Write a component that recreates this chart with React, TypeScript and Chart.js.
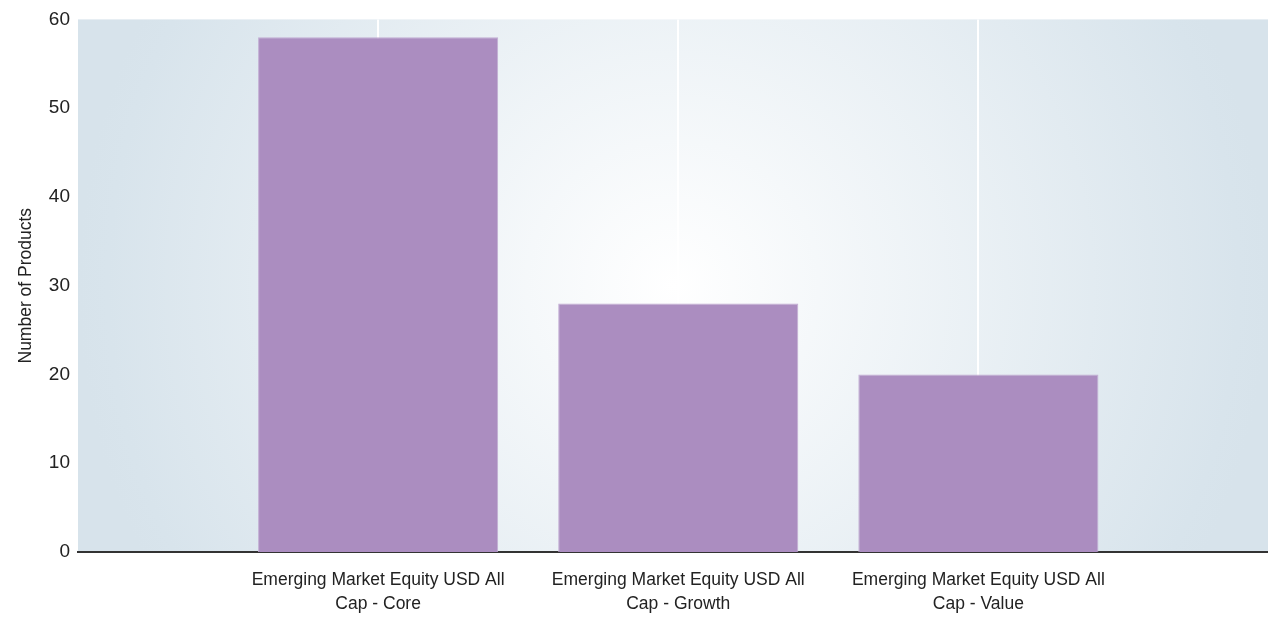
import React, { useEffect, useRef } from "react";
import { Chart, registerables } from "chart.js";

Chart.register(...registerables);

const categories: string[][] = [
  ["Emerging Market Equity USD All", "Cap - Core"],
  ["Emerging Market Equity USD All", "Cap - Growth"],
  ["Emerging Market Equity USD All", "Cap - Value"],
];
const productCounts: number[] = [58, 28, 20];
const yTicks: number[] = [0, 10, 20, 30, 40, 50, 60];

const FONT = "'Liberation Sans Narrow', 'Arial Narrow', 'Liberation Sans', Arial, sans-serif";

const bgPlugin = {
  id: "radialBg",
  beforeDraw(chart: any) {
    const { ctx, chartArea } = chart;
    if (!chartArea) return;
    const { left, top, right, bottom } = chartArea;
    const cx = (left + right) / 2;
    const cy = (top + bottom) / 2;
    const r = (right - left) / 2;
    const g = ctx.createRadialGradient(cx, cy, 0, cx, cy, r);
    g.addColorStop(0, "#ffffff");
    g.addColorStop(0.95, "#d8e4ec");
    g.addColorStop(1, "#d7e3eb");
    ctx.save();
    ctx.fillStyle = g;
    ctx.fillRect(left, top, right - left, bottom - top);
    ctx.restore();
  },
};

export default function App() {
  const ref = useRef<HTMLCanvasElement | null>(null);
  useEffect(() => {
    if (!ref.current) return;
    const chart = new Chart(ref.current, {
      type: "bar",
      data: {
        datasets: [
          {
            label: "Number of Products",
            data: productCounts.map((v, i) => ({ x: i, y: v })),
            backgroundColor: "#ab8dc0",
            borderColor: "#c2add3",
            borderWidth: 1,
            barPercentage: 0.8,
            categoryPercentage: 1,
          },
        ],
      },
      options: {
        animation: false,
        responsive: true,
        maintainAspectRatio: false,
        layout: { padding: { top: 19, right: 0, left: 0, bottom: 0 } },
        plugins: { legend: { display: false }, tooltip: { enabled: false } },
        scales: {
          x: {
            type: "linear",
            min: -1,
            max: 2.965,
            offset: false,
            grid: {
              offset: false,
              color: (c: any) => (c.tick && c.tick.value >= 0 ? "#ffffff" : "rgba(0,0,0,0)"),
              lineWidth: 2,
              drawTicks: false,
            },
            border: { display: true, color: "#333333", width: 2 },
            ticks: {
              stepSize: 1,
              includeBounds: false,
              autoSkip: false,
              maxRotation: 0,
              padding: 16,
              color: "#222222",
              font: { family: FONT, size: 17.5, lineHeight: 1.37 },
              callback: (v: any) => {
                const i = Number(v);
                return Number.isInteger(i) && categories[i] ? categories[i] : "";
              },
            },
            afterFit: (s: any) => {
              s.height = 67;
            },
          },
          y: {
            min: 0,
            max: 60,
            afterBuildTicks: (s: any) => {
              s.ticks = yTicks.map((v) => ({ value: v }));
            },
            grid: { display: false, drawTicks: false },
            border: { display: false },
            ticks: {
              padding: 8,
              color: "#222222",
              font: { family: FONT, size: 19 },
            },
            title: {
              display: true,
              text: "Number of Products",
              color: "#222222",
              font: { family: FONT, size: 17.5, lineHeight: 1.2 },
              padding: { top: 16, bottom: 0 },
            },
            afterFit: (s: any) => {
              s.width = 78;
            },
          },
        },
      },
      plugins: [bgPlugin],
    } as any);
    return () => chart.destroy();
  }, []);
  return (
    <div style={{ position: "fixed", left: 0, top: 0, width: 1268, height: 619, background: "#ffffff" }}>
      <canvas ref={ref} />
    </div>
  );
}
